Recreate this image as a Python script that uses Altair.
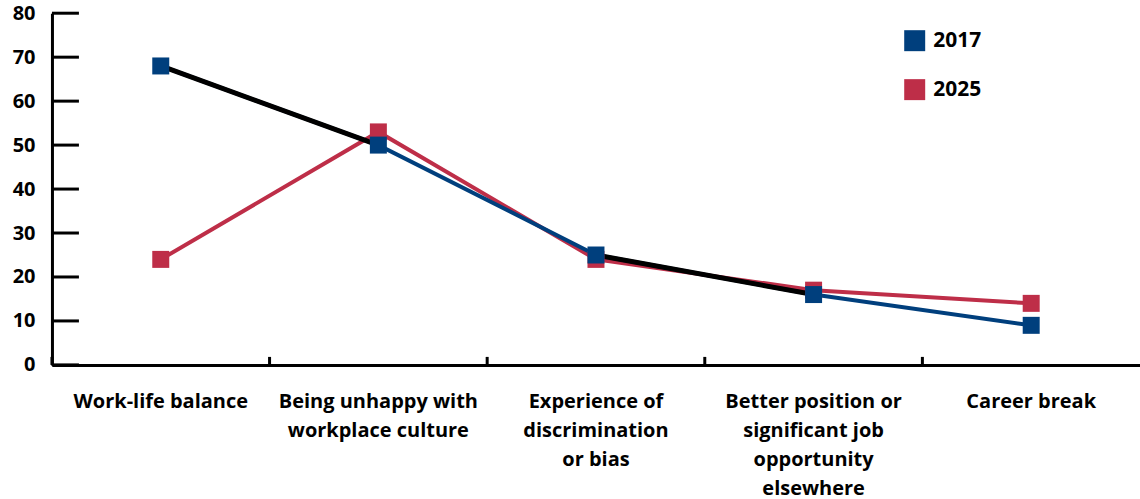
import json
import altair as alt
import pandas as pd

# Reasons given, one per x position
categories = [
    "Work-life balance",
    "Being unhappy with workplace culture",
    "Experience of discrimination or bias",
    "Better position or significant job opportunity elsewhere",
    "Career break",
]
# Wrapped axis label lines for each category
label_lines = [
    ["Work-life balance"],
    ["Being unhappy with", "workplace culture"],
    ["Experience of", "discrimination", "or bias"],
    ["Better position or", "significant job", "opportunity", "elsewhere"],
    ["Career break"],
]
values_2017 = [68, 50, 25, 16, 9]
values_2025 = [24, 53, 24, 17, 14]
years = ["2017", "2025"]
colors = ["#003f7d", "#be2e48"]
y_ticks = [0, 10, 20, 30, 40, 50, 60, 70, 80]
# 2017 segments emphasised in black (pairs of category indices)
black_segments = [(0, 1), (2, 3)]

FONT = "Open Sans"
W, H = 1089, 352

df_2017 = pd.DataFrame({"category": categories, "value": values_2017, "year": years[0]})
df_2025 = pd.DataFrame({"category": categories, "value": values_2025, "year": years[1]})

seg_rows = []
for k, (a, b) in enumerate(black_segments):
    for i in (a, b):
        seg_rows.append({"segment": k, "category": categories[i], "value": values_2017[i]})
df_seg = pd.DataFrame(seg_rows)

df_yticks = pd.DataFrame({"value": y_ticks})
df_xticks = pd.DataFrame({"category": categories})

label_expr = ""
for cat, lines in zip(categories, label_lines):
    label_expr += f"datum.value == {json.dumps(cat)} ? {json.dumps(lines)} : "
label_expr += "datum.value"

x_axis = alt.Axis(
    title=None,
    labelExpr=label_expr,
    labelAngle=0,
    labelFont=FONT,
    labelFontSize=20,
    labelFontWeight="bold",
    labelColor="black",
    labelLineHeight=29,
    labelPadding=27,
    labelLimit=400,
    ticks=False,
    tickSize=0,
    domainColor="black",
    domainWidth=3,
    grid=False,
)
y_axis = alt.Axis(
    title=None,
    values=y_ticks,
    labelFont=FONT,
    labelFontSize=20,
    labelFontWeight="bold",
    labelColor="black",
    labelPadding=17,
    ticks=False,
    tickSize=0,
    domainColor="black",
    domainWidth=3,
    grid=False,
)

x_scale = alt.Scale(paddingInner=0, paddingOuter=0)
y_scale = alt.Scale(domain=[0, 80], nice=False)
x_enc = alt.X("category:N", sort=categories, axis=x_axis, scale=x_scale)
y_enc = alt.Y("value:Q", axis=y_axis, scale=y_scale)

color_scale = alt.Scale(domain=years, range=colors)
legend = alt.Legend(
    title=None,
    orient="none",
    legendX=853,
    legendY=17,
    symbolType="square",
    symbolSize=441,
    symbolStrokeWidth=0,
    symbolOpacity=1,
    labelFont=FONT,
    labelFontSize=21,
    labelFontWeight="bold",
    labelColor="black",
    labelOffset=8,
    rowPadding=27,
)

line_2025 = alt.Chart(df_2025).mark_line(color=colors[1], strokeWidth=4).encode(x=x_enc, y=y_enc)
line_2017 = alt.Chart(df_2017).mark_line(color=colors[0], strokeWidth=4).encode(x=x_enc, y=y_enc)
line_black = alt.Chart(df_seg).mark_line(color="black", strokeWidth=5).encode(
    x=x_enc, y=y_enc, detail="segment:N"
)
pts_2025 = alt.Chart(df_2025).mark_point(shape="square", filled=True, size=289, opacity=1).encode(
    x=x_enc, y=y_enc, color=alt.Color("year:N", scale=color_scale, legend=legend)
)
pts_2017 = alt.Chart(df_2017).mark_point(shape="square", filled=True, size=289, opacity=1).encode(
    x=x_enc, y=y_enc, color=alt.Color("year:N", scale=color_scale, legend=legend)
)

# Inward tick marks on the value axis
y_tick_marks = alt.Chart(df_yticks).mark_rule(color="black", strokeWidth=3).encode(
    y=y_enc,
    x=alt.value(0),
    x2=alt.value(27),
)
# Upward tick marks at the category boundaries
x_tick_marks = alt.Chart(df_xticks).mark_rule(color="black", strokeWidth=3).encode(
    x=alt.X("category:N", sort=categories, bandPosition=0, axis=x_axis, scale=x_scale),
    y=alt.value(H - 8),
    y2=alt.value(H),
)

chart = (
    alt.layer(y_tick_marks, x_tick_marks, line_2025, line_2017, line_black, pts_2025, pts_2017)
    .properties(width=W, height=H, padding={"left": 12, "top": 3, "right": 0, "bottom": 0})
    .configure(background="white", view=alt.ViewConfig(strokeWidth=0, stroke="transparent"))
)

chart.save("out.html", embed_options={"renderer": "svg", "actions": False})
